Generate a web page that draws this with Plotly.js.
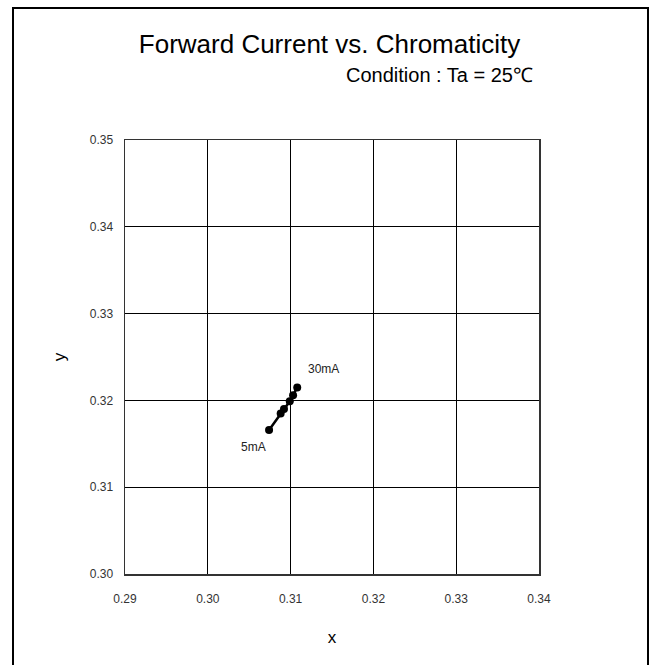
<!DOCTYPE html>
<html>
<head>
<meta charset="utf-8">
<script src="https://cdn.plot.ly/plotly-3.0.1.min.js"></script>
<style>html,body{margin:0;padding:0;background:#fff;}#chart{width:651px;height:665px;}</style>
</head>
<body>
<div id="chart"></div>
<script>
// Data
var currentMA = [5, 10, 15, 20, 25, 30];
var chromX = [0.3074, 0.3088, 0.3092, 0.3099, 0.3103, 0.3108];
var chromY = [0.3166, 0.3185, 0.3190, 0.3199, 0.3206, 0.3215];
var xTicks = [0.29, 0.30, 0.31, 0.32, 0.33, 0.34];
var yTicks = [0.30, 0.31, 0.32, 0.33, 0.34, 0.35];

var last = currentMA.length - 1;
var trace = {
  x: chromX, y: chromY, type: 'scatter', mode: 'lines+markers',
  line: {color: '#000', width: 2.5},
  marker: {color: '#000', size: 8},
  text: currentMA.map(function(c){return c + 'mA';}),
  hoverinfo: 'x+y+text', showlegend: false
};

var fam = 'Liberation Sans, Arial, sans-serif';
var tickFont = {family: fam, size: 12, color: '#333'};
var layout = {
  width: 651, height: 665,
  margin: {l: 125, r: 112, t: 140, b: 91},
  paper_bgcolor: '#fff', plot_bgcolor: '#fff',
  title: {
    text: 'Forward Current vs. Chromaticity',
    font: {family: fam, size: 26, color: '#000'},
    xref: 'paper', x: 0.494, xanchor: 'center',
    yref: 'container', y: 1 - 44/665, yanchor: 'middle'
  },
  xaxis: {
    range: [0.29, 0.34], tickvals: xTicks, ticktext: xTicks.map(function(v){return v.toFixed(2);}),
    showgrid: true, gridcolor: '#000', gridwidth: 1,
    showline: true, linecolor: '#333', linewidth: 1.5, mirror: true,
    zeroline: false, ticks: 'outside', ticklen: 13, tickcolor: 'rgba(0,0,0,0)',
    tickfont: tickFont,
    title: {text: 'x', font: {family: fam, size: 17, color: '#000'}, standoff: 26}
  },
  yaxis: {
    range: [0.30, 0.35], tickvals: yTicks, ticktext: yTicks.map(function(v){return v.toFixed(2);}),
    showgrid: true, gridcolor: '#000', gridwidth: 1,
    showline: true, linecolor: '#333', linewidth: 1.5, mirror: true,
    zeroline: false, ticks: 'outside', ticklen: 8, tickcolor: 'rgba(0,0,0,0)',
    tickfont: tickFont,
    title: {text: 'y', font: {family: fam, size: 17, color: '#000'}, standoff: 20}
  },
  shapes: [{
    type: 'path', xref: 'paper', yref: 'paper',
    path: 'M ' + (-112/414) + ' ' + (-100/434) + ' L ' + (-112/414) + ' ' + (566/434) +
          ' L ' + (523/414) + ' ' + (566/434) + ' L ' + (523/414) + ' ' + (-100/434),
    line: {color: '#000', width: 2}
  }],
  annotations: [
    {text: 'Condition : Ta = 25℃', xref: 'paper', yref: 'paper', x: 410/414, y: 499.5/434,
     xanchor: 'right', yanchor: 'middle', showarrow: false,
     font: {family: fam, size: 20, color: '#000'}},
    {text: currentMA[0] + 'mA', x: chromX[0], y: chromY[0], xref: 'x', yref: 'y',
     showarrow: false, xshift: -16, yshift: -17, font: {family: fam, size: 12, color: '#222'}},
    {text: currentMA[last] + 'mA', x: chromX[last], y: chromY[last], xref: 'x', yref: 'y',
     showarrow: false, xshift: 26, yshift: 18, font: {family: fam, size: 12, color: '#222'}}
  ]
};

Plotly.newPlot('chart', [trace], layout, {displayModeBar: false, staticPlot: true});
</script>
</body>
</html>
